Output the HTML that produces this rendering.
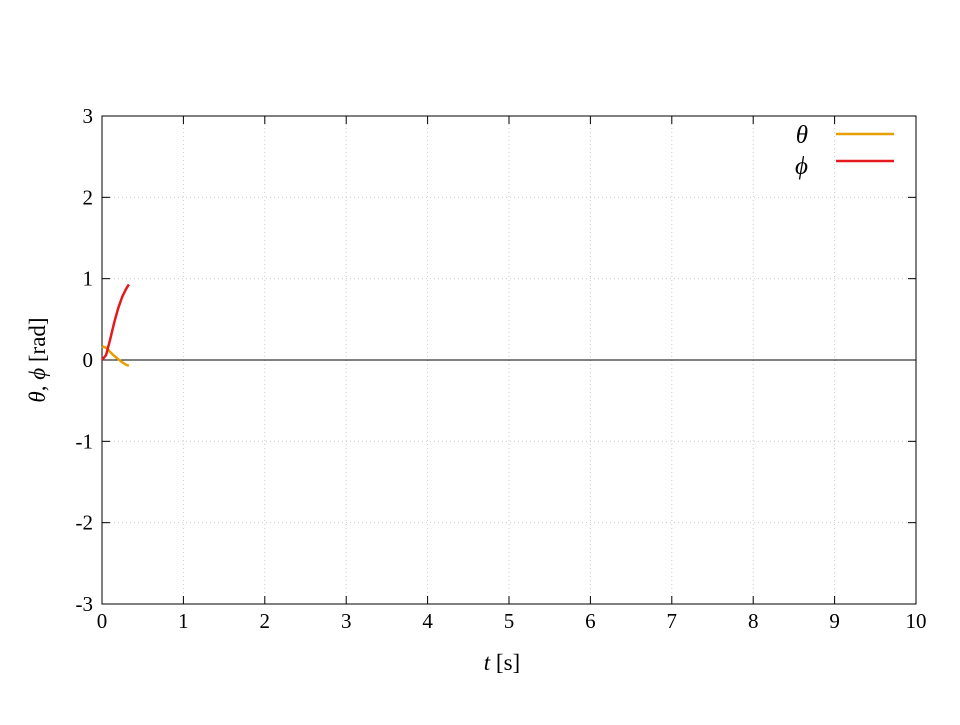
<!DOCTYPE html>
<html><head><meta charset="utf-8"><style>
body{margin:0;background:#fff;}
svg text{font-family:"Liberation Serif",serif;font-size:21px;fill:#000;}
</style></head><body>
<svg id="chart" width="960" height="720">
<g id="grid"></g>
<g id="axes"></g>
<g id="series"></g>
<text x="502" y="670" text-anchor="middle" style="font-size:23px"><tspan font-style="italic">t</tspan> [s]</text>
<text transform="translate(45,360) rotate(-90)" text-anchor="middle" style="font-size:23px"><tspan font-style="italic">θ</tspan>, <tspan font-style="italic">ϕ</tspan> [rad]</text>
<g>
<text x="808" y="143" text-anchor="end" font-style="italic" style="font-size:25px">θ</text>
<line x1="836" y1="134" x2="894" y2="134" stroke="#e69f00" stroke-width="2.5"/>
<text x="808" y="174" text-anchor="end" font-style="italic" style="font-size:25px">ϕ</text>
<line x1="836" y1="161" x2="894" y2="161" stroke="#e41a1c" stroke-width="2.5"/>
</g>
</svg>
<script>
const xTicks=[0,1,2,3,4,5,6,7,8,9,10];
const yTicks=[-3,-2,-1,0,1,2,3];
const tVals=[0,0.05,0.1,0.15,0.2,0.25,0.3,0.33];
const thetaVals=[0.17,0.15,0.1,0.05,0.01,-0.03,-0.06,-0.07];
const phiVals=[0,0.06,0.25,0.46,0.64,0.78,0.88,0.93];
const L=102,R=916,T=116,B=604;
const sx=v=>L+(v-0)/(10-0)*(R-L);
const sy=v=>B-(v+3)/6*(B-T);
const NS="http://www.w3.org/2000/svg";
function mk(tag,attrs,parent){const e=document.createElementNS(NS,tag);for(const k in attrs)e.setAttribute(k,attrs[k]);parent.appendChild(e);return e;}
const grid=document.getElementById('grid'),axes=document.getElementById('axes'),series=document.getElementById('series');
xTicks.forEach(v=>{
 if(v>0&&v<10){const g=mk('line',{x1:sx(v),x2:sx(v),y1:T,y2:B,stroke:'#ccc','stroke-dasharray':'1,3','stroke-width':1},grid);
 
 }
 const a=mk('line',{x1:sx(v),x2:sx(v),y1:B,y2:B-8,stroke:'#000'},axes);
 
 
 const b=mk('line',{x1:sx(v),x2:sx(v),y1:T,y2:T+8,stroke:'#000'},axes);
 
 
 const t=mk('text',{x:sx(v),y:B+24,'text-anchor':'middle'},axes);t.textContent=v;
 
 
});
yTicks.forEach(v=>{
 if(v>-3&&v<3&&v!==0){const g=mk('line',{x1:L,x2:R,y1:sy(v),y2:sy(v),stroke:'#ccc','stroke-dasharray':'1,3','stroke-width':1},grid);
 
 }
 const a=mk('line',{x1:L,x2:L+8,y1:sy(v),y2:sy(v),stroke:'#000'},axes);
 
 
 const b=mk('line',{x1:R,x2:R-8,y1:sy(v),y2:sy(v),stroke:'#000'},axes);
 
 
 const t=mk('text',{x:L-9,y:sy(v)+7,'text-anchor':'end'},axes);t.textContent=v;
 
 
});
const zl=mk('line',{x1:L,x2:R,y1:sy(0),y2:sy(0),stroke:'#000'},axes);


const fr=mk('rect',{x:L,y:T,width:R-L,height:B-T,fill:'none',stroke:'#000'},axes);


function line(vals,color,name){
 const d=tVals.map((t,i)=>(i?'L':'M')+sx(t).toFixed(1)+','+sy(vals[i]).toFixed(1)).join(' ');
 const p=mk('path',{d:d,fill:'none',stroke:color,'stroke-width':2.5},series);
 
 
}
line(thetaVals,'#e69f00','theta-line');
line(phiVals,'#e41a1c','phi-line');
</script>
</body></html>
